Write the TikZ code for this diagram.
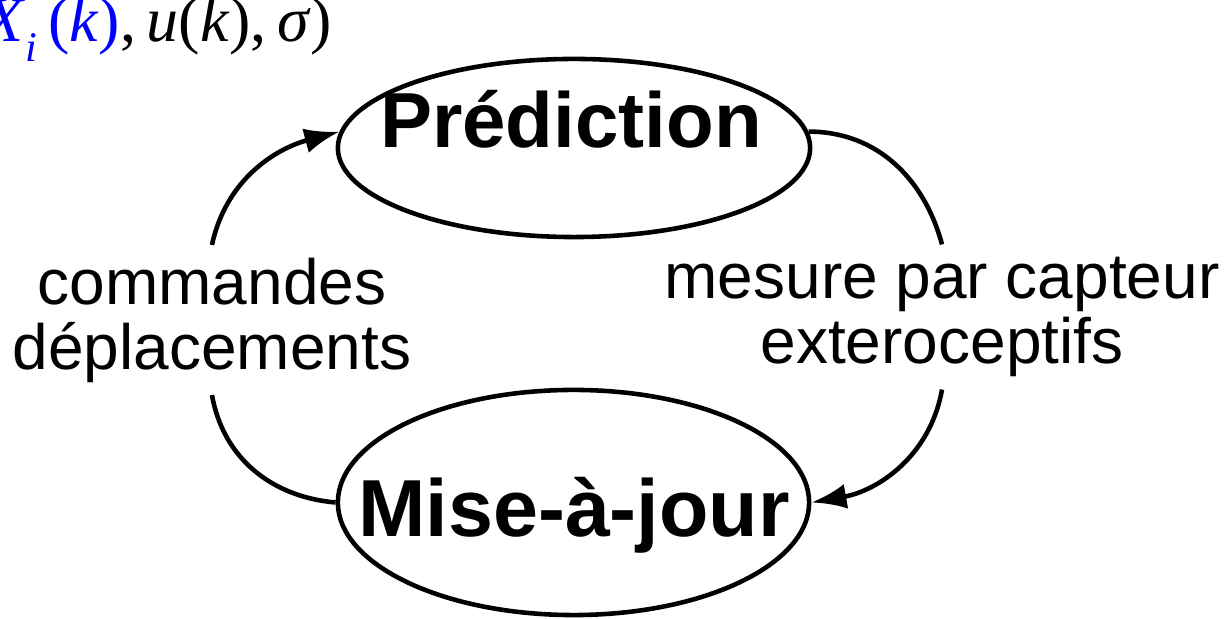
\documentclass[tikz,border=0pt]{standalone}
\usepackage{fontspec}
\setmainfont{Liberation Sans}
\newfontfamily\eqfont{Liberation Serif}
\usetikzlibrary{arrows.meta,shapes.geometric}

\begin{document}
\begin{tikzpicture}[x=.01cm,y=-.01cm,>=Latex,
    etat/.style={draw,ellipse,line width=1.3pt,inner sep=0pt},
    titre/.style={font=\fontsize{22.2}{26}\selectfont\bfseries,inner sep=0pt,anchor=base},
    legende/.style={align=center,font=\fontsize{18.2}{18.5}\selectfont,inner sep=.12cm},
    trait/.style={line width=1.3pt},
    fleche/.style={line width=1.3pt,-{Latex[length=.35cm,width=.25cm]}}]
  \useasboundingbox (0,0) rectangle (1226,619);
  \clip (0,0) rectangle (1226,619);
  \fill[white] (0,0) rectangle (1226,619);
  % formule coupee en haut a gauche
  \node[anchor=base east,inner sep=0pt,font=\eqfont\fontsize{18.2}{22}\selectfont] (formule) at (333,42)
    {\textcolor{blue}{\textit{X}\raisebox{-.3em}{\fontsize{12}{14}\selectfont\textit{i}}\,(\textit{k})},\,\textit{u}(\textit{k}),\,\textit{σ})};
  % les deux etats
  \node[etat,minimum width=4.72cm,minimum height=1.78cm] (pred) at (574,148) {};
  \node[titre] (predtxt) at (571,148) {Prédiction};
  \node[etat,minimum width=4.71cm,minimum height=2.25cm] (upd) at (573.5,502.5) {};
  \node[titre,font=\fontsize{23}{27}\selectfont\bfseries] (updtxt) at (574,537) {Mise-à-jour};
  % legendes
  \node[legende] (cmd) at (212,320) {commandes\\déplacements};
  \node[legende] (msr) at (942,317) {mesure par capteur\\exteroceptifs};
  % boucle
  \draw[trait] (upd.west) to[out=175,in=-80] (cmd.south);
  \draw[fleche] (cmd.north) to[out=78,in=195] (pred.176);
  \draw[trait] (pred.4) to[out=0,in=105] (msr.north);
  \draw[fleche] (msr.south) to[out=-100,in=10] (upd.east);
\end{tikzpicture}
\end{document}
